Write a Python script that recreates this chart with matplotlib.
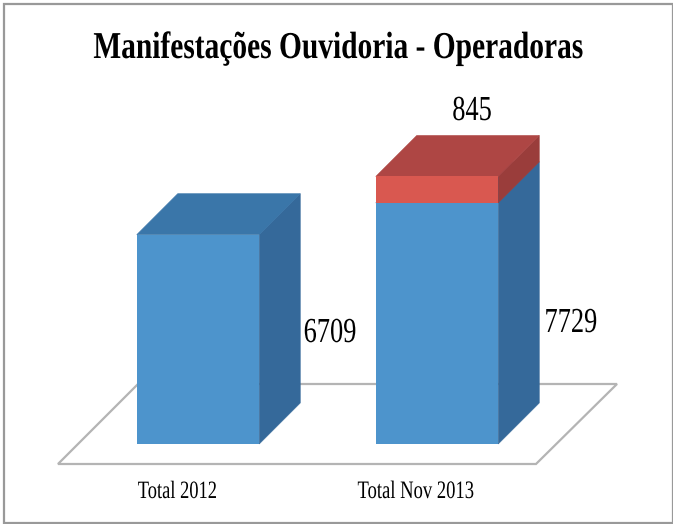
import matplotlib
matplotlib.use("Agg")
import matplotlib.pyplot as plt
from matplotlib.patches import Polygon, Rectangle
from matplotlib.patheffects import AbstractPathEffect
from matplotlib.transforms import Affine2D

categories = ["Total 2012", "Total Nov 2013"]
series_blue = [6709, 7729]
series_red = [0, 845]
title = "Manifestações Ouvidoria - Operadoras"

W, H = 673, 524
PX_X = 239.0          # pixels per category step
PX_Y = 0.0312         # pixels per value unit
X0_PX, Y0_PX = 198.0, 444.0
BAR_W = 122.5 / PX_X
DX = 41 / PX_X
DY = 41 / PX_Y


class VStretch(AbstractPathEffect):
    """Stretch glyphs vertically about the text baseline (the source image is stretched)."""
    def __init__(self, baseline_display, sy):
        super().__init__()
        self.y0, self.sy = baseline_display, sy

    def draw_path(self, renderer, gc, tpath, affine, rgbFace=None):
        extra = Affine2D().translate(0, -self.y0).scale(1, self.sy).translate(0, self.y0)
        renderer.draw_path(gc, tpath, affine + extra, rgbFace)


plt.rcParams["font.family"] = ["Liberation Serif"]
fig = plt.figure(figsize=(W / 100, H / 100), dpi=100, facecolor="white")
ax = fig.add_axes([0, 0, 1, 1])
ax.set_xlim(-X0_PX / PX_X, (W - X0_PX) / PX_X)
ax.set_ylim(-(H - Y0_PX) / PX_Y, Y0_PX / PX_Y)
ax.axis("off")

# outer frame
fig.add_artist(Rectangle((4 / W, 1 / H), 668.5 / W, 519 / H, transform=fig.transFigure,
                         fill=False, edgecolor="#999999", linewidth=1.6))

fx = lambda p: (p - X0_PX) / PX_X
fy = lambda p: (Y0_PX - p) / PX_Y

# floor
ax.add_patch(Polygon([(fx(58), fy(464)), (fx(536), fy(464)), (fx(617), fy(384)), (fx(138), fy(384))],
                     closed=True, facecolor="white", edgecolor="#b4b4b4", linewidth=1.6, zorder=1))


def prism(x, bottom, height, front, side, top, z):
    l, r = x - BAR_W / 2, x + BAR_W / 2
    t = bottom + height
    ax.add_patch(Polygon([(r, bottom), (r + DX, bottom + DY), (r + DX, t + DY), (r, t)],
                         closed=True, facecolor=side, edgecolor=side, linewidth=0.4, zorder=z))
    ax.add_patch(Polygon([(l, t), (r, t), (r + DX, t + DY), (l + DX, t + DY)],
                         closed=True, facecolor=top, edgecolor=top, linewidth=0.4, zorder=z))
    ax.bar(x, height, BAR_W, bottom=bottom, color=front, linewidth=0, zorder=z + 0.5)


for i, (b, r) in enumerate(zip(series_blue, series_red)):
    prism(i, 0, b, "#4d94cc", "#35699a", "#3a76a9", 2)
    if r:
        prism(i, b, r, "#d95850", "#9a3d3b", "#ae4644", 3)


def label(xc, baseline, s, size, sy, **kw):
    t = ax.text(fx(xc), fy(baseline), s, fontsize=size, ha="center", va="baseline",
                color="black", zorder=6, **kw)
    t.set_path_effects([VStretch(H - baseline, sy)])


label(338, 58, title, 21.2, 1.29, fontweight="bold")
label(330, 342, str(series_blue[0]), 19, 1.33)
label(571, 332, str(series_blue[1]), 19, 1.33)
label(472, 120, str(series_red[1]), 19, 1.33)
label(177.5, 498, categories[0], 13.3, 1.35)
label(416, 498, categories[1], 13.4, 1.35)

fig.savefig("out.png", dpi=100)
